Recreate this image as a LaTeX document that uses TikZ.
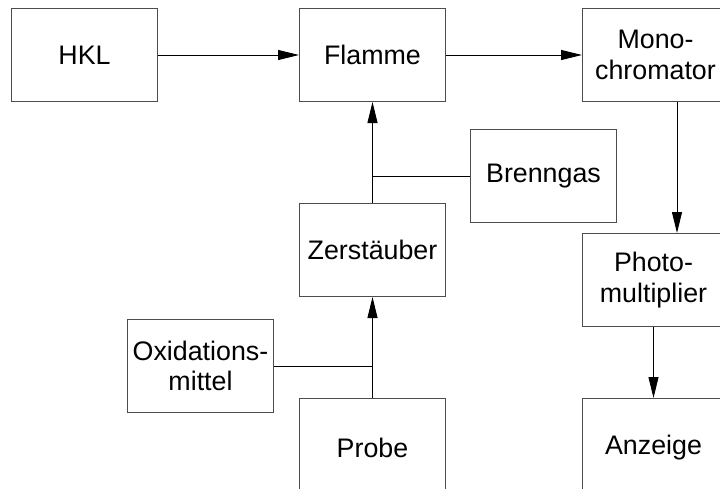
\documentclass[tikz,border=0pt]{standalone}
\usepackage{fontspec}
\setmainfont{Liberation Sans}
\usetikzlibrary{arrows.meta}

\tikzset{
  blockbox/.style={draw=black!70, line width=1pt, rectangle, inner sep=0pt,
    anchor=north west, align=center, minimum width=146pt, minimum height=93pt,
    font=\fontsize{26.8}{30.5}\selectfont},
  flow/.style={line width=0.9pt, -{Triangle[length=21pt,width=10pt]}},
  feed/.style={line width=0.9pt},
}

\begin{document}
\begin{tikzpicture}[x=1pt, y=-1pt]
  \useasboundingbox (0,0) rectangle (720,488);

  % upper row: lamp, flame, monochromator
  \node[blockbox] (hkl)   at (11,8)  {HKL};
  \node[blockbox] (flame) at (299,8) {Flamme};
  \node[blockbox] (mono)  at (582,8) {Mono-\\chromator};

  % gas supply and nebuliser
  \node[blockbox] (gas)   at (470,129) {Brenngas};
  \node[blockbox] (neb)   at (299,203) {Zerstäuber};
  \node[blockbox] (ox)    at (127,319) {Oxidations-\\mittel};
  \node[blockbox, minimum height=98pt] (probe) at (299,398) {Probe};

  % detector chain
  \node[blockbox, minimum width=142pt] (pmt)  at (582,233) {Photo-\\multiplier};
  \node[blockbox, minimum width=142pt, minimum height=98pt] (disp) at (582,398) {Anzeige};

  % connectors
  \draw[flow] (hkl.east) -- (flame.west);
  \draw[flow] (flame.east) -- (mono.west);
  \draw[flow] (neb.north) -- (flame.south);
  \draw[feed] (gas.west) -- (gas.west -| flame.south);
  \draw[flow] (probe.north) -- (neb.south);
  \draw[feed] (ox.east) -- (ox.east -| neb.south);
  \draw[flow] ([xshift=95pt]mono.south west) -- ([xshift=95pt]pmt.north west);
  \draw[flow] (pmt.south) -- (disp.north);
\end{tikzpicture}
\end{document}
